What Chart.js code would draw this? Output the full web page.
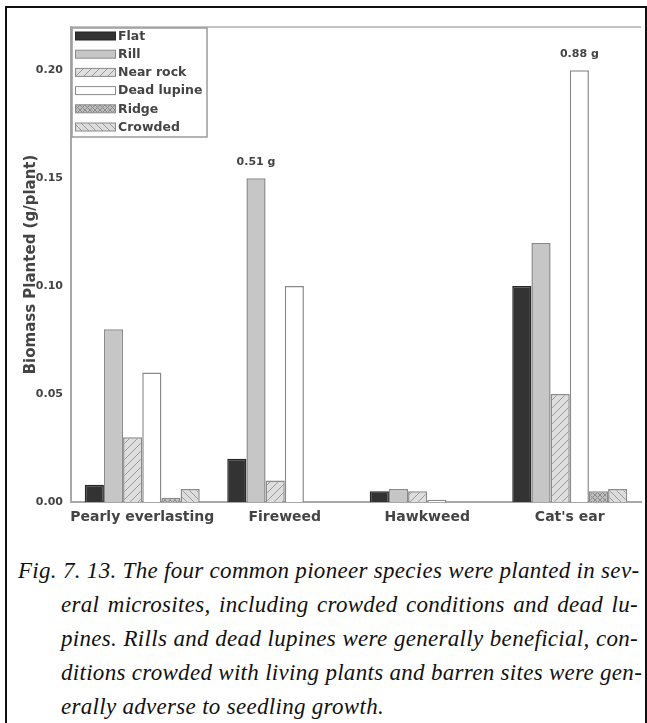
<!DOCTYPE html>
<html>
<head>
<meta charset="utf-8">
<script src="https://cdn.jsdelivr.net/npm/chart.js@4/dist/chart.umd.min.js"></script>
<style>
  html,body{margin:0;padding:0;background:#fff;width:647px;height:723px;overflow:hidden}
  #frame{position:absolute;left:5px;top:6px;width:638px;height:740px;border:2px solid #111}
  #wrap{position:absolute;left:0;top:0;width:647px;height:550px}
  #caption{position:absolute;left:0;top:554px;width:647px;font-family:"Liberation Serif",serif;font-style:italic;font-size:23px;letter-spacing:0.3px;line-height:34px;color:#111}
  .ln{white-space:nowrap;text-align:justify;text-align-last:justify;margin-right:9px}
  .first{margin-left:18px}
  .rest{margin-left:61px}
  .last{text-align-last:left}
</style>
</head>
<body>
<div id="frame"></div>
<div id="wrap"><canvas id="chart" width="647" height="550"></canvas></div>
<div id="caption">
  <div class="ln first">Fig. 7. 13. The four common pioneer species were planted in sev-</div>
  <div class="ln rest">eral microsites, including crowded conditions and dead lu-</div>
  <div class="ln rest">pines. Rills and dead lupines were generally beneficial, con-</div>
  <div class="ln rest">ditions crowded with living plants and barren sites were gen-</div>
  <div class="ln rest last">erally adverse to seedling growth.</div>
</div>
<script>
const categories = ['Pearly everlasting', 'Fireweed', 'Hawkweed', "Cat's ear"];
const seriesNames = ['Flat', 'Rill', 'Near rock', 'Dead lupine', 'Ridge', 'Crowded'];
const flat       = [0.008, 0.020, 0.005, 0.100];
const rill       = [0.080, 0.150, 0.006, 0.120];
const nearRock   = [0.030, 0.010, 0.005, 0.050];
const deadLupine = [0.060, 0.100, 0.001, 0.200];
const ridge      = [0.002, 0.000, 0.000, 0.005];
const crowded    = [0.006, 0.000, 0.000, 0.006];
const yTicks = [0, 0.05, 0.10, 0.15, 0.20];
// off-scale bars: real value written above the clipped bar
const notes = [
  { series: 1, cat: 1, text: '0.51 g' },
  { series: 3, cat: 3, text: '0.88 g' }
];

const INK = '#444';
const SANS = '"DejaVu Sans", sans-serif';

function hatch(bg, fg, size, dirs){
  const c = document.createElement('canvas');
  c.width = c.height = size;
  const g = c.getContext('2d');
  g.fillStyle = bg; g.fillRect(0, 0, size, size);
  g.strokeStyle = fg; g.lineWidth = 1;
  const s = size;
  dirs.forEach(d => {
    g.beginPath();
    if(d === '/'){
      g.moveTo(0, s); g.lineTo(s, 0);
      g.moveTo(-1, 1); g.lineTo(1, -1);
      g.moveTo(s-1, s+1); g.lineTo(s+1, s-1);
    } else {
      g.moveTo(0, 0); g.lineTo(s, s);
      g.moveTo(s-1, -1); g.lineTo(s+1, 1);
      g.moveTo(-1, s-1); g.lineTo(1, s+1);
    }
    g.stroke();
  });
  return g.createPattern(c, 'repeat');
}

const fills = [
  '#333333',
  '#c6c6c6',
  hatch('#dedede', '#9a9a9a', 8, ['/']),
  '#ffffff',
  hatch('#bdbdbd', '#8a8a8a', 5, ['/', '\\']),
  hatch('#dcdcdc', '#9c9c9c', 7, ['\\'])
];
const borders = ['#262626', '#8a8a8a', '#8a8a8a', '#8a8a8a', '#8a8a8a', '#8a8a8a'];
const values = [flat, rill, nearRock, deadLupine, ridge, crowded];

const legendBox = {
  id: 'legendBox',
  afterDraw(c){
    const ctx = c.ctx, x0 = 72, y0 = 28, w = 135, h = 109;
    ctx.save();
    ctx.fillStyle = '#fff';
    ctx.fillRect(x0, y0, w, h);
    ctx.strokeStyle = '#9a9a9a'; ctx.lineWidth = 1.5;
    ctx.strokeRect(x0, y0, w, h);
    ctx.font = 'bold 12.5px ' + SANS;
    ctx.textBaseline = 'middle';
    seriesNames.forEach((name, i) => {
      const cy = 36 + i * 18.2;
      ctx.fillStyle = fills[i];
      ctx.fillRect(75, cy - 4, 40, 8);
      ctx.strokeStyle = borders[i]; ctx.lineWidth = 1;
      ctx.strokeRect(75.5, cy - 4, 40, 8);
      ctx.fillStyle = INK;
      ctx.fillText(name, 118, cy + 0.5);
    });
    ctx.restore();
  }
};

const extras = {
  id: 'extras',
  afterDatasetsDraw(c){
    const ctx = c.ctx, a = c.chartArea;
    ctx.save();
    ctx.strokeStyle = '#b0b0b0'; ctx.lineWidth = 1.5;
    ctx.beginPath(); ctx.moveTo(a.left, a.top); ctx.lineTo(a.right, a.top); ctx.stroke();
    ctx.font = 'bold 11px ' + SANS;
    ctx.fillStyle = INK;
    ctx.textAlign = 'center'; ctx.textBaseline = 'middle';
    notes.forEach(n => {
      const bar = c.getDatasetMeta(n.series).data[n.cat];
      ctx.fillText(n.text, bar.x, bar.y - 16);
    });
    ctx.restore();
  }
};

new Chart(document.getElementById('chart'), {
  type: 'bar',
  data: {
    labels: categories,
    datasets: seriesNames.map((name, i) => ({
      label: name,
      data: values[i],
      backgroundColor: fills[i],
      borderColor: borders[i],
      borderWidth: 1.5,
      categoryPercentage: 0.807,
      barPercentage: 1.0
    }))
  },
  options: {
    responsive: false,
    animation: false,
    layout: { padding: { left: 0, top: 27, right: 6, bottom: 0 } },
    plugins: { legend: { display: false }, tooltip: { enabled: false } },
    scales: {
      x: {
        grid: { display: false, drawTicks: false },
        border: { color: '#a8a8a8', width: 2 },
        ticks: { color: INK, font: { family: SANS, size: 14, weight: 'bold' }, padding: 7, maxRotation: 0, autoSkip: false },
        afterFit: s => { s.height = 48; }
      },
      y: {
        min: 0, max: 0.22,
        grid: { display: false, drawTicks: false },
        border: { color: '#a8a8a8', width: 2 },
        afterBuildTicks: s => { s.ticks = yTicks.map(v => ({ value: v })); },
        ticks: { color: INK, font: { family: SANS, size: 11, weight: 'bold' }, padding: 8, callback: v => Number(v).toFixed(2) },
        title: { display: true, text: 'Biomass Planted (g/plant)', color: INK, font: { family: SANS, size: 15, weight: 'bold' }, padding: { top: 22, bottom: 0 } },
        afterFit: s => { s.width = 71; }
      }
    }
  },
  plugins: [legendBox, extras]
});
</script>
</body>
</html>
